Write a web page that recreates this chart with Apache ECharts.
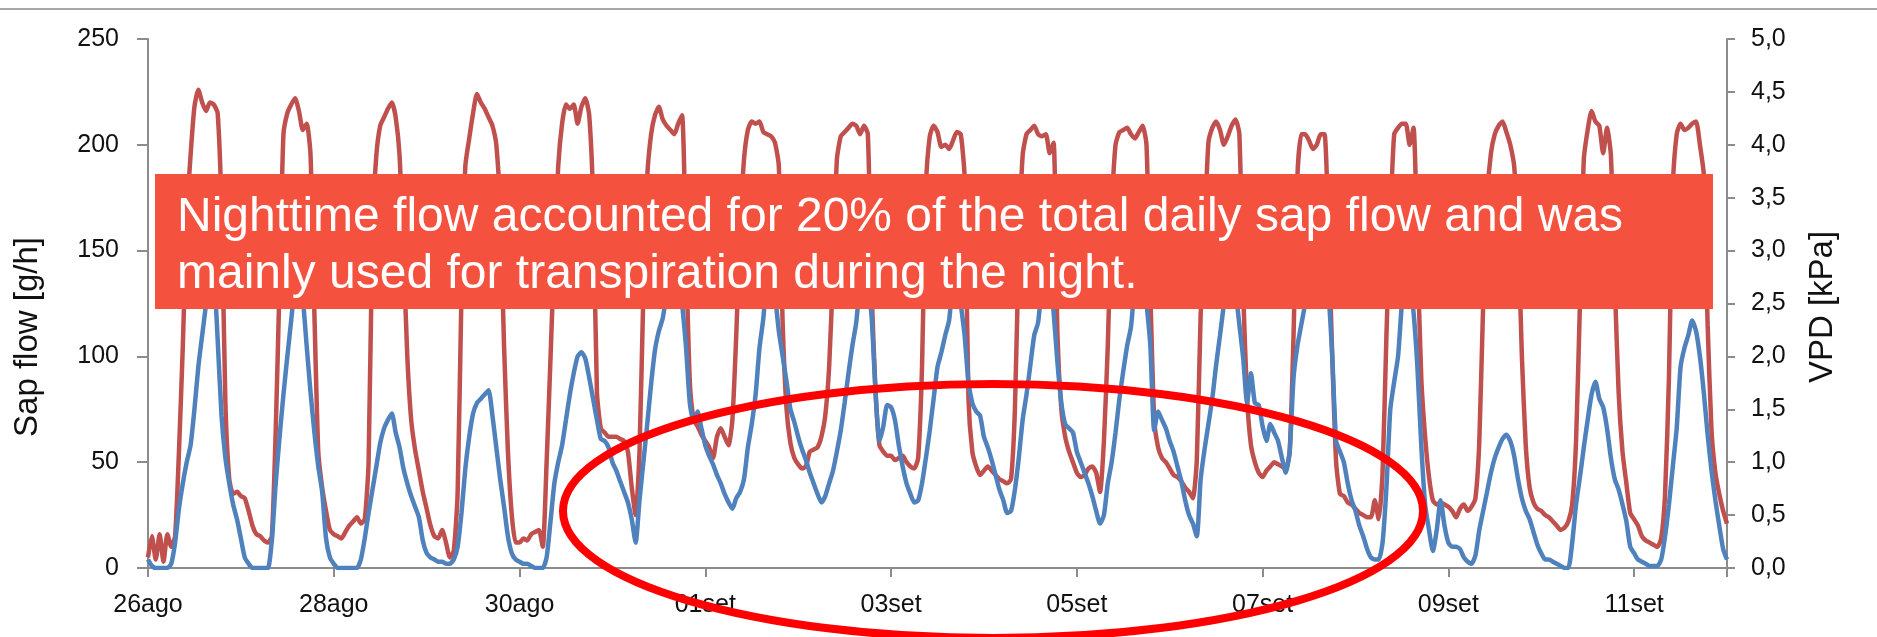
<!DOCTYPE html>
<html>
<head>
<meta charset="utf-8">
<title>Sap flow and VPD</title>
<script src="https://cdn.jsdelivr.net/npm/echarts@6.0.0/dist/echarts.min.js"></script>
<style>
  html, body { margin: 0; padding: 0; background: #fff; }
  #chart { width: 1877px; height: 637px; }
</style>
</head>
<body>
<div id="chart"></div>
<script>
// hourly readings, 26 Aug 00:00 -> 12 Sep 00:00 (one line per day)
const sapFlow = [ // g/h
  5,15,4,16,3,16,10,15,55,105,165,195,218,226,220,216,220,219,215,170,78,42,35,36,
  34,33,27,20,16,15,13,12,15,65,135,205,215,219,222,216,207,210,195,120,55,38,27,18,
  16,15,14,17,20,22,24,21,23,50,160,195,209,213,217,220,213,195,150,100,70,56,46,36,
  28,20,15,14,18,12,5,8,35,130,190,203,215,224,220,217,213,209,200,170,105,55,25,12,
  12,14,13,16,17,18,10,50,99,150,190,210,219,217,219,210,218,222,214,175,83,66,64,62,
  62,62,61,60,55,38,25,55,130,185,205,214,218,212,209,207,205,210,214,150,88,70,67,63,
  60,57,52,62,66,62,58,70,110,160,193,207,211,210,211,206,205,204,201,190,115,75,59,52,
  49,47,48,55,56,57,62,72,95,140,193,204,206,208,210,209,205,209,205,130,83,58,55,53,
  53,51,52,53,50,48,47,52,95,180,204,209,206,199,200,198,202,206,205,185,80,55,48,44,
  46,48,46,44,42,41,40,42,75,150,195,205,207,209,205,204,205,196,201,110,75,62,55,50,
  45,43,44,47,48,45,36,60,105,168,200,206,207,208,205,203,206,209,200,130,70,57,52,50,
  47,44,43,41,38,36,33,51,120,160,201,208,211,207,200,204,209,212,205,130,80,58,50,45,
  43,46,48,50,49,48,47,55,110,185,205,205,202,198,200,205,205,160,100,50,35,34,31,30,
  28,26,25,24,24,32,23,45,110,165,205,208,210,210,200,208,150,90,62,43,32,30,31,30,
  29,27,24,28,30,27,29,33,60,125,175,196,205,209,211,206,200,190,160,100,58,38,31,28,
  27,25,24,22,20,18,19,22,30,60,125,193,207,216,211,209,196,208,195,135,83,55,40,26,
  23,20,15,13,12,11,10,14,35,90,180,205,210,207,208,210,211,200,186,115,65,45,35,27,
  21
];

const vpd = [ // kPa
  0.08,0.02,0,0,0,0,0.04,0.24,0.56,0.80,1.00,1.16,1.50,1.90,2.20,2.50,2.90,2.80,2.16,1.44,1.04,0.80,0.60,0.46,
  0.28,0.10,0.04,0,0,0,0,0,0.26,0.80,1.24,1.64,2.00,2.34,2.70,2.90,2.56,2.10,1.66,1.28,0.96,0.72,0.28,0.10,
  0.04,0,0,0,0,0,0,0.08,0.28,0.52,0.74,0.96,1.18,1.32,1.40,1.46,1.28,1.14,0.94,0.80,0.68,0.58,0.48,0.26,
  0.14,0.10,0.08,0.06,0.06,0.04,0.04,0.08,0.20,0.52,0.94,1.24,1.46,1.56,1.60,1.64,1.68,1.44,1.14,0.84,0.58,0.30,0.14,0.08,
  0.06,0.04,0.04,0.02,0,0,0,0.10,0.44,0.80,1.00,1.16,1.40,1.64,1.84,2.00,2.04,1.98,1.80,1.60,1.40,1.22,1.20,1.14,
  1.00,0.92,0.82,0.72,0.62,0.46,0.24,0.64,1.00,1.36,1.74,2.06,2.24,2.36,2.60,2.90,3.00,2.80,2.50,2.10,1.56,1.38,1.48,1.32,
  1.16,1.06,0.98,0.88,0.80,0.70,0.62,0.56,0.66,0.72,0.84,1.14,1.36,1.64,2.08,2.36,2.80,3.00,2.60,2.24,2.00,1.76,1.50,1.38,
  1.24,1.12,1.02,0.90,0.80,0.70,0.62,0.68,0.80,0.92,1.10,1.30,1.56,1.84,2.10,2.32,2.70,2.96,2.70,2.36,1.66,1.20,1.34,1.54,
  1.52,1.40,1.16,0.96,0.80,0.70,0.62,0.64,0.80,1.04,1.30,1.60,1.90,2.04,2.20,2.34,2.70,2.80,2.50,2.20,1.76,1.56,1.48,1.44,
  1.24,1.14,1.02,0.88,0.74,0.64,0.52,0.54,0.74,1.04,1.40,1.64,1.92,2.20,2.32,2.70,3.00,2.76,2.42,1.94,1.56,1.36,1.32,1.28,
  1.10,1.00,0.90,0.80,0.68,0.54,0.42,0.50,0.80,1.00,1.28,1.60,1.86,2.10,2.28,2.70,3.00,2.80,2.50,2.10,1.30,1.48,1.40,1.32,
  1.20,1.10,0.96,0.82,0.64,0.50,0.42,0.30,0.84,1.12,1.36,1.60,1.92,2.20,2.50,2.90,3.00,2.64,2.30,1.98,1.56,1.84,1.56,1.54,
  1.34,1.20,1.36,1.28,1.20,1.04,0.90,1.10,1.80,2.10,2.30,2.50,2.80,3.00,3.10,3.00,2.80,2.60,2.00,1.20,1.10,1.00,0.80,0.64,
  0.54,0.40,0.30,0.18,0.10,0.08,0.08,0.24,0.76,1.50,1.76,2.00,2.50,2.80,2.70,2.42,1.90,1.16,0.60,0.36,0.16,0.36,0.64,0.40,
  0.24,0.20,0.20,0.18,0.10,0.06,0.04,0.12,0.36,0.54,0.72,0.90,1.04,1.14,1.22,1.26,1.20,1.06,0.84,0.66,0.54,0.46,0.34,0.22,
  0.14,0.08,0.08,0.06,0.04,0.02,0,0,0.24,0.60,0.86,1.14,1.40,1.64,1.76,1.60,1.52,1.32,1.04,0.84,0.74,0.60,0.44,0.20,
  0.14,0.08,0.06,0.04,0.02,0.02,0.02,0.08,0.30,0.60,0.96,1.32,1.90,2.08,2.20,2.34,2.24,2.00,1.66,1.26,0.92,0.64,0.40,0.18,
  0.08
];

const dateLabels = ['26ago', '28ago', '30ago', '01set', '03set', '05set', '07set', '09set', '11set'];
const noteLines = [
  'Nighttime flow accounted for 20% of the total daily sap flow and was',
  'mainly used for transpiration during the night.'
];

const FONT = '"Liberation Sans", Arial, sans-serif';
const axisGray = '#8c8c8c';

const chart = echarts.init(document.getElementById('chart'));

const labelStyle = { fontFamily: FONT, fontSize: 25, color: '#111' };

chart.setOption({
  animation: false,
  grid: { left: 148, right: 150, top: 39, bottom: 69 },
  xAxis: {
    type: 'value',
    min: 0,
    max: 408,
    interval: 48,
    axisLine: { lineStyle: { color: axisGray, width: 2 } },
    axisTick: { length: 9, lineStyle: { color: axisGray, width: 2 } },
    splitLine: { show: false },
    axisLabel: {
      ...labelStyle,
      margin: 25,
      formatter: v => (v % 48 === 0 ? dateLabels[v / 48] : '')
    }
  },
  yAxis: [
    {
      type: 'value',
      min: 0,
      max: 250,
      interval: 50,
      axisLine: { show: true, lineStyle: { color: axisGray, width: 2 } },
      axisTick: { show: true, length: 11, lineStyle: { color: axisGray, width: 2 } },
      splitLine: { show: false },
      axisLabel: { ...labelStyle, margin: 29 }
    },
    {
      type: 'value',
      position: 'right',
      min: 0,
      max: 5,
      interval: 0.5,
      axisLine: { show: true, lineStyle: { color: axisGray, width: 2 } },
      axisTick: { show: true, length: 8, lineStyle: { color: axisGray, width: 2 } },
      splitLine: { show: false },
      axisLabel: {
        ...labelStyle,
        margin: 24,
        formatter: v => v.toFixed(1).replace('.', ',')
      }
    }
  ],
  series: [
    {
      name: 'Sap flow',
      type: 'line',
      yAxisIndex: 0,
      data: sapFlow.map((v, i) => [i, v]),
      showSymbol: false,
      smooth: 0.2,
      lineStyle: { color: '#C0504D', width: 4.5 },
      itemStyle: { color: '#C0504D' }
    },
    {
      name: 'VPD',
      type: 'line',
      yAxisIndex: 1,
      data: vpd.map((v, i) => [i, v]),
      showSymbol: false,
      smooth: 0.2,
      lineStyle: { color: '#4F81BD', width: 4.5 },
      itemStyle: { color: '#4F81BD' }
    }
  ],
  graphic: [
    {
      type: 'line',
      shape: { x1: 0, y1: 9, x2: 1877, y2: 9 },
      style: { stroke: '#a6a6a6', lineWidth: 2 },
      z: 100
    },
    {
      type: 'text',
      x: 28, y: 337,
      rotation: Math.PI / 2,
      style: { text: 'Sap flow [g/h]', font: '33px ' + FONT, fill: '#111', align: 'center', verticalAlign: 'middle' },
      z: 100
    },
    {
      type: 'text',
      x: 1823, y: 307,
      rotation: Math.PI / 2,
      style: { text: 'VPD [kPa]', font: '33px ' + FONT, fill: '#111', align: 'center', verticalAlign: 'middle' },
      z: 100
    },
    {
      type: 'rect',
      shape: { x: 155, y: 174, width: 1558, height: 135 },
      style: { fill: '#F4513F' },
      z: 100
    },
    {
      type: 'text',
      x: 177, y: 218,
      style: { text: noteLines[0], font: '48px ' + FONT, fill: '#ffffff', align: 'left', verticalAlign: 'middle' },
      z: 101
    },
    {
      type: 'text',
      x: 177, y: 275,
      style: { text: noteLines[1], font: '48px ' + FONT, fill: '#ffffff', align: 'left', verticalAlign: 'middle' },
      z: 101
    },
    {
      type: 'ellipse',
      shape: { cx: 993, cy: 511, rx: 430, ry: 127 },
      style: { fill: 'none', stroke: '#FF0000', lineWidth: 8 },
      z: 110
    }
  ]
});
</script>
</body>
</html>
